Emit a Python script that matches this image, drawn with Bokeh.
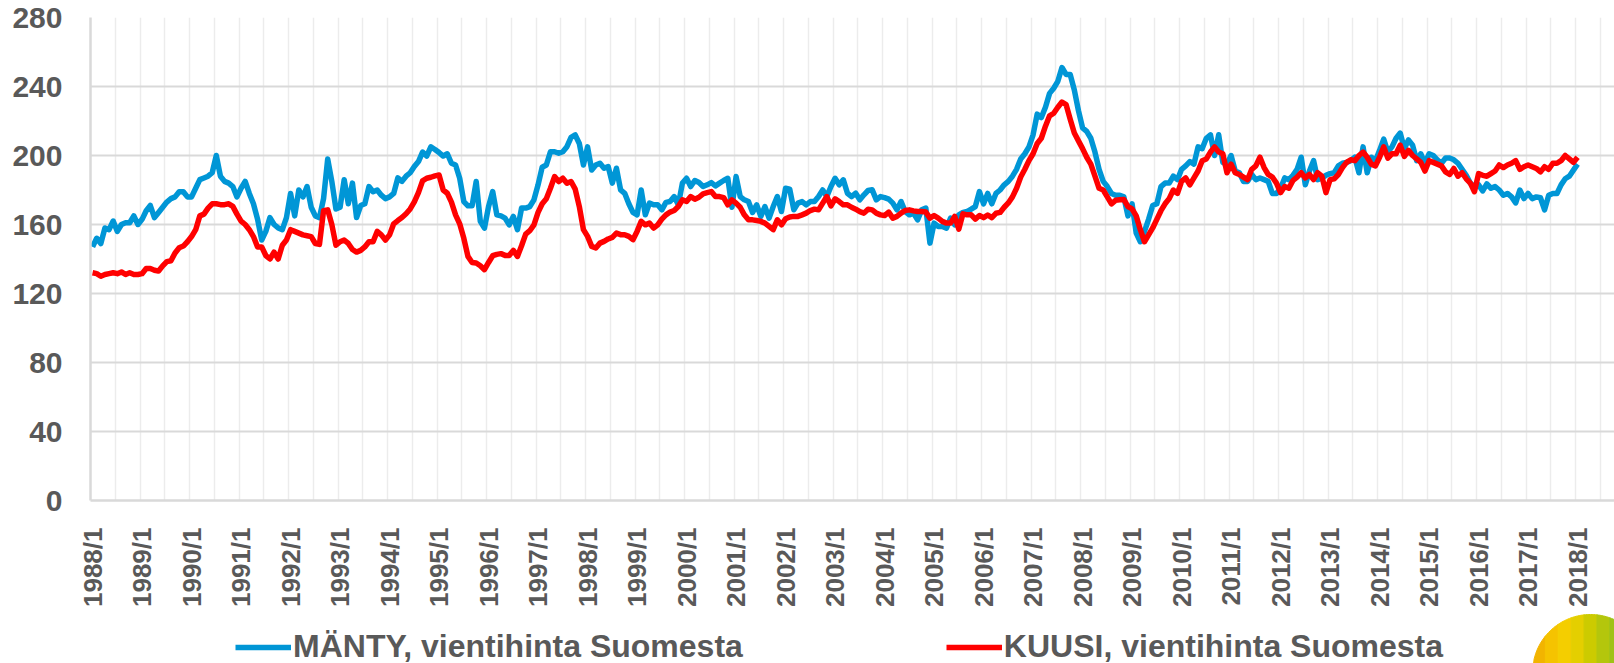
from bokeh.plotting import figure
from bokeh.models import Range1d, FixedTicker, Legend, LegendItem
from bokeh.layouts import column
from bokeh.embed import file_html
from bokeh.resources import INLINE
import math

# Monthly export prices, 1988/1 ... 2018/1 (index)
manty = [
    147, 152, 149, 158, 157, 162, 156, 160, 161, 161, 165, 160,          # 1988
    163, 168, 171, 164, 167, 170, 173, 175, 176, 179, 179, 176,          # 1989
    176, 181, 186, 187, 188, 190, 200, 188, 185, 184, 182, 176,          # 1990
    181, 185, 178, 172, 163, 151, 156, 164, 160, 158, 157, 164,          # 1991
    178, 165, 180, 176, 182, 170, 165, 164, 175, 198, 185, 169,          # 1992
    170, 186, 172, 184, 164, 171, 172, 182, 179, 180, 177, 175,          # 1993
    176, 178, 187, 185, 188, 190, 193.6, 196.5, 202, 199.7, 205, 203.5,  # 1994
    201.7, 199.7, 201, 195.5, 194.5, 186.8, 173.3, 170.8, 170.8, 184.9, 161.8, 157.9,  # 1995
    170.4, 179.1, 165.6, 165, 163.7, 159.8, 164.7, 157, 169.5, 169.5, 170.4, 174.3,    # 1996
    183, 193.2, 194.5, 202.2, 202.2, 201.3, 202.2, 205.1, 210.5, 211.9, 207, 194.5,    # 1997
    205, 191.6, 194.5, 195.5, 192.6, 193.6, 184, 192.6, 180.1, 178.1, 172, 167,        # 1998
    165.6, 180, 165.6, 172.4, 171.4, 171.4, 168.5, 172.8, 173.3, 176.2, 171.4, 184,    # 1999
    186.8, 182, 185.5, 184.3, 182, 183, 184.3, 182.4, 184, 185.5, 186.8, 170,          # 2000
    187.8, 176.2, 174.3, 173.3, 167, 171.4, 164.7, 170.4, 163.7, 170.4, 176.2, 167.5,  # 2001
    181, 180.5, 168.5, 172.4, 173.3, 171.4, 173.3, 173.3, 176.2, 180, 176.2, 182,      # 2002
    186.8, 183, 185.9, 178.1, 176.2, 178.1, 174.3, 177.2, 179.7, 180.1, 174.3, 176.2,  # 2003
    175.6, 174.7, 172.4, 168.5, 173.3, 167.5, 165.6, 166.6, 162.7, 168.5, 169.5, 149.2,  # 2004
    160.8, 158.9, 158.9, 157.9, 163.7, 159.8, 165.6, 167, 167.5, 168.9, 170.4, 179.1,  # 2005
    172, 178, 172, 178, 180, 183, 185, 188, 192, 198, 201, 205,          # 2006
    212, 224, 222, 228, 236, 239, 243, 251, 247, 247, 238, 226,          # 2007
    216, 214, 210, 202, 192, 185, 182, 178, 177, 177, 176, 165,          # 2008
    172, 155, 150, 156, 163, 171, 172, 182, 184, 184, 188, 186,          # 2009
    192, 194, 196.5, 195, 205, 204, 210, 212, 200, 212, 196, 195,        # 2010
    200, 191, 190, 185, 185, 189, 186, 187, 186, 185, 178, 178,          # 2011
    181, 187, 186, 188.5, 192, 199, 183, 191, 197, 186, 187, 188.5,      # 2012
    189.5, 190, 194, 195.5, 196, 197, 199, 190, 205, 190, 199, 197,      # 2013
    203, 209.5, 202, 205, 210, 213, 204, 209, 206, 197, 201, 195.5,      # 2014
    201, 200, 197.5, 195.5, 198.5, 198.5, 197.5, 195.5, 192, 188.5, 184, 182,  # 2015
    183, 179.5, 183.5, 181, 182, 180, 177, 178, 176, 172.5, 180, 175,    # 2016
    178, 175, 176, 175.5, 168.5, 177, 178, 178, 183, 186.5, 188, 191.5,  # 2017
    195,                                                                 # 2018/1
]

kuusi = [
    132, 131.5, 130, 131, 131.5, 132, 131.5, 132.5, 131, 132, 131, 131,  # 1988
    131.5, 134.5, 134.5, 133.5, 133, 136, 138.5, 139, 143.5, 146.5, 147.5, 150,  # 1989
    153, 157, 165, 166, 169.5, 172, 172, 171.5, 171.5, 172, 170.5, 166,  # 1990
    162, 160, 157, 153, 147, 147, 142, 140, 144, 140, 148, 151,          # 1991
    157, 156, 155, 154, 153.5, 153, 149, 148.5, 168, 168.5, 160, 148,    # 1992
    150, 151, 149, 145.5, 144, 145, 147, 150, 150, 156, 154, 151,        # 1993
    154, 160.4, 162.3, 164, 166.2, 169, 173.1, 178.5, 185.3, 186.8, 187.4, 188.2,  # 1994
    188.7, 180, 178.1, 173, 165.6, 160.4, 152, 141.5, 138, 137.7, 136.1, 133.8,    # 1995
    138, 141.9, 142.7, 143.1, 142.1, 142.1, 145, 141.5, 147.7, 154.4, 156.4, 159.8,  # 1996
    167, 172, 174.9, 181, 187.8, 184.9, 186.8, 183.9, 184.9, 180.5, 170.4, 157,    # 1997
    153.1, 147.3, 146.4, 149.2, 150.2, 151.6, 152.5, 155, 154.1, 154.1, 153.1, 151.2,  # 1998
    156, 161.8, 159.8, 160.8, 157.9, 159.8, 163.1, 165.6, 167.2, 168.1, 170.4, 174.3,  # 1999
    173.3, 176.2, 174.7, 175.8, 177.8, 178.5, 179.1, 176.2, 176.2, 175.6, 171.4, 174.3,  # 2000
    172.4, 170, 165.6, 162.7, 162.7, 162.3, 161.8, 160.8, 158.9, 157, 162.7, 159.8,  # 2001
    163.3, 164.3, 164.7, 164.7, 165.6, 166.6, 168.1, 168.9, 168.5, 172.4, 176.2, 170.8,  # 2002
    174.9, 173.3, 171.4, 171.4, 170, 168.9, 167.5, 166.6, 168.9, 168.5, 166.6, 165.6,  # 2003
    165.2, 167.2, 163.7, 164.7, 166.6, 168.1, 168.5, 167.9, 167.5, 167.5, 167.2, 163.7,  # 2004
    165.2, 163.7, 161.8, 160.8, 160.8, 164.7, 157.3, 166.2, 165.6, 165.6, 163.1, 165.2,  # 2005
    164, 165.5, 164, 166.5, 167, 170, 172.5, 176, 181, 187.5, 192, 197,  # 2006
    201, 207, 210, 217, 223, 224.5, 228, 231, 229.5, 221, 213, 208.5,    # 2007
    204, 199, 195, 188, 181, 180, 176, 172, 174, 174.3, 174.5, 170.4,    # 2008
    169, 165, 157, 150, 154, 158, 163, 168, 172, 175, 180, 178,          # 2009
    185, 187, 183, 187, 191, 197, 198, 202, 205, 202, 201, 190,          # 2010
    195, 190, 189, 187.5, 186, 192, 194, 199, 193, 189, 187.5, 184,      # 2011
    178.5, 182, 181, 185.5, 187.5, 190, 187, 189, 186, 190, 188, 178.5,  # 2012
    186, 186.5, 189, 193, 196, 197.5, 197, 200, 202, 199, 195, 194,      # 2013
    199, 205, 198.5, 201, 201, 206, 199.5, 203, 200, 198, 196, 191,      # 2014
    197, 196, 195, 194, 190.5, 189, 192.5, 188, 190, 186.5, 184, 179,    # 2015
    189.5, 188.5, 188, 189.5, 191, 194.5, 193, 194.5, 195.5, 197, 192, 193.5,  # 2016
    194.5, 193.5, 192.5, 190.5, 193.5, 192, 195.5, 195.5, 197, 200, 198, 196,  # 2017
    199,                                                                 # 2018/1
]

years = list(range(1988, 2019))
tick_labels = [f"{y}/1" for y in years]
y_ticks = [0, 40, 80, 120, 160, 200, 240, 280]
series_names = ["MÄNTY, vientihinta Suomesta", "KUUSI, vientihinta Suomesta"]

BLUE = "#0096d6"
RED = "#ff0000"
TXT = "#595959"
FONT = "Liberation Sans"

months = list(range(len(manty)))
label_ticks = [12 * k for k in range(len(years))]
grid_ticks = [6 * k - 0.5 for k in range(0, 63)]

p = figure(width=1614, height=610, output_backend="svg", toolbar_location=None,
           x_range=Range1d(-0.5, 368.95), y_range=Range1d(0, 280),
           min_border_left=90, min_border_right=0, min_border_top=17, min_border_bottom=108)
p.outline_line_color = None
p.background_fill_color = "white"

# grids
p.xgrid.ticker = FixedTicker(ticks=grid_ticks)
p.xgrid.grid_line_color = "#ececec"
p.xgrid.grid_line_width = 1.5
p.ygrid.ticker = FixedTicker(ticks=y_ticks)
p.ygrid.grid_line_color = "#d9d9d9"
p.ygrid.grid_line_width = 1.8

# axes
p.xaxis.ticker = FixedTicker(ticks=label_ticks)
p.xaxis.major_label_overrides = {t: lab for t, lab in zip(label_ticks, tick_labels)}
p.xaxis.major_label_orientation = math.pi / 2
p.xaxis.major_label_standoff = 27
p.yaxis.ticker = FixedTicker(ticks=y_ticks)
p.yaxis.major_label_standoff = 28
for ax in (p.xaxis[0], p.yaxis[0]):
    ax.axis_line_color = "#d9d9d9"
    ax.axis_line_width = 2.5
    ax.major_tick_line_color = None
    ax.minor_tick_line_color = None
    ax.major_tick_out = 0
    ax.major_tick_in = 0
    ax.major_label_text_font = FONT
    ax.major_label_text_font_style = "bold"
    ax.major_label_text_color = TXT
p.xaxis.major_label_text_font_size = "26px"
p.yaxis.major_label_text_font_size = "30px"

r1 = p.line(months, manty, line_color=BLUE, line_width=5.5, line_join="round")
r2 = p.line(months, kuusi, line_color=RED, line_width=5.5, line_join="round")

# bottom strip: legend + logo (x in page pixels; frame aligned with the chart's)
s = figure(width=1614, height=53, output_backend="svg", toolbar_location=None,
           x_range=Range1d(90, 1614), y_range=Range1d(0, 53),
           x_axis_type=None, y_axis_type=None,
           min_border_left=90, min_border_right=0, min_border_top=0, min_border_bottom=0)
s.outline_line_color = None
s.xgrid.visible = False
s.ygrid.visible = False

# legend proxies (kept outside the visible range; only their legend samples show)
lb = s.line([0, 1], [0, 0], line_color=BLUE, line_width=5.5)
lr = s.line([0, 1], [0, 0], line_color=RED, line_width=5.5)
legend = Legend(items=[LegendItem(label=series_names[0], renderers=[lb]),
                       LegendItem(label=series_names[1], renderers=[lr])],
                location=(145, -2), orientation="horizontal",
                glyph_width=56, glyph_height=30, label_height=30,
                label_standoff=2, spacing=203, padding=0, margin=0,
                label_text_font=FONT, label_text_font_style="bold",
                label_text_font_size="32px", label_text_color=TXT,
                label_text_baseline="middle",
                background_fill_alpha=0, border_line_color=None)
s.add_layout(legend, "center")

# logo: circle with a yellow-to-green gradient (vertical slices)
cx, cy, R = 1590.0, -9.0, 58.0
logo_cols = ["#f2b400", "#f5c300", "#f4ce00", "#e4cf00", "#cccb00",
             "#b4c60c", "#9fc216", "#90be1e", "#86ba22"]
n = len(logo_cols)
xs, ys = [], []
for k in range(n):
    x0 = cx - R + 2 * R * k / n
    x1 = cx - R + 2 * R * (k + 1) / n
    pts = [x0 + (x1 - x0) * j / 8 for j in range(9)]
    top = [cy + math.sqrt(max(R * R - (x - cx) ** 2, 0)) for x in pts]
    bot = [cy - math.sqrt(max(R * R - (x - cx) ** 2, 0)) for x in pts]
    xs.append(pts + pts[::-1])
    ys.append(top + bot[::-1])
s.patches(xs, ys, fill_color=logo_cols, line_color=logo_cols, line_width=1)

open("out.html", "w").write(file_html(column(p, s, spacing=0), INLINE))
